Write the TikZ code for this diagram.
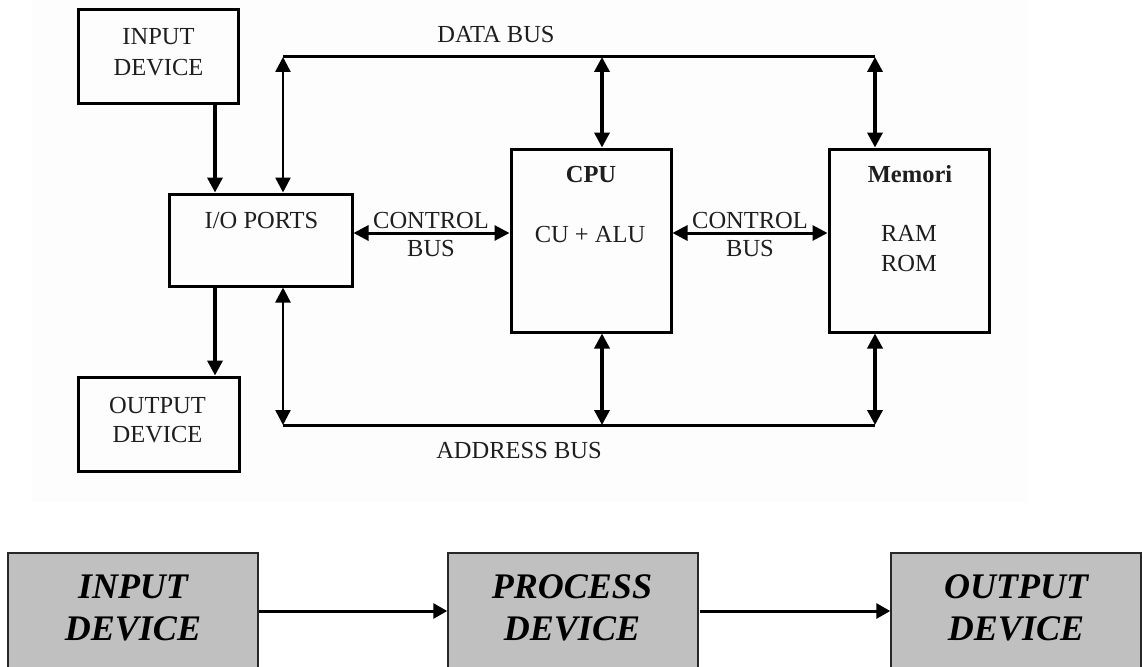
\documentclass[tikz,border=0pt]{standalone}
\usepackage{fontspec}
\setmainfont{Liberation Serif}
\usetikzlibrary{arrows.meta}
\definecolor{bgtint}{RGB}{253,253,253}
\definecolor{boxgray}{RGB}{192,192,192}
\definecolor{edgegray}{RGB}{40,40,40}
\definecolor{inkgray}{RGB}{30,30,30}
\begin{document}
\begin{tikzpicture}[x=1pt,y=-1pt,
  frame/.style={draw=black, line width=3pt, inner sep=0pt},
  txt/.style={font=\fontsize{24.5}{29}\selectfont, text=inkgray, inner sep=0pt, anchor=base},
  btxt/.style={font=\fontsize{24.5}{29}\selectfont\bfseries, text=inkgray, inner sep=0pt, anchor=base},
  bigtxt/.style={font=\fontsize{36}{42}\selectfont\bfseries\itshape, inner sep=0pt, anchor=base},
  biarr/.style={line width=3pt, {Triangle[width=15pt,length=15pt]}-{Triangle[width=15pt,length=15pt]}},
  onearr/.style={line width=3.5pt, -{Triangle[width=15pt,length=15pt]}},
  busline/.style={line width=3pt},
  flowbox/.style={draw=edgegray, fill=boxgray, line width=1.5pt, inner sep=0pt},
  flowarr/.style={line width=3pt, -{Triangle[width=15pt,length=14pt]}}
]
\useasboundingbox (0,0) rectangle (1142,666);
\clip (0,0) rectangle (1142,666);
\fill[white] (0,0) rectangle (1142,666);
\fill[bgtint] (32,0) rectangle (1028,503);

% ---- blocks (top diagram)
\node[frame, minimum width=160pt, minimum height=94pt] (inp) at (158,57) {};
\node[frame, minimum width=183pt, minimum height=92pt] (io) at (260.5,240) {};
\node[frame, minimum width=160pt, minimum height=183pt] (cpu) at (591,240.5) {};
\node[frame, minimum width=160pt, minimum height=183pt] (mem) at (909,240.5) {};
\node[frame, minimum width=161pt, minimum height=94pt] (out) at (158.5,424) {};

% ---- texts in blocks
\node[txt] (inpA) at (158.5,45) {INPUT};
\node[txt] (inpB) at (158.5,76) {DEVICE};
\node[txt] (ioA) at (261.5,228) {I/O PORTS};
\node[btxt] (cpuA) at (591,182) {CPU};
\node[txt] (cpuB) at (590,242) {CU + ALU};
\node[btxt] (memA) at (910,182) {Memori};
\node[txt] (memB) at (909,241) {RAM};
\node[txt] (memC) at (909,271) {ROM};
\node[txt] (outA) at (157.5,413) {OUTPUT};
\node[txt] (outB) at (157.5,442) {DEVICE};

% ---- bus junctions
\coordinate (dL) at (283,57);
\coordinate (dC) at (602,57);
\coordinate (dR) at (875,57);
\coordinate (aL) at (283,425);
\coordinate (aC) at (602,425);
\coordinate (aR) at (875,425);
\coordinate (cb) at (0,233);
\coordinate (dev) at (215,0);

% ---- buses
\draw[busline] (dL) -- (dR);
\draw[busline] (aL) -- (aR);
\draw[biarr, line width=2.5pt] (dL) -- (dL |- io.north);
\draw[biarr, line width=3.5pt] (dC) -- (dC |- cpu.north);
\draw[biarr, line width=3.5pt] (dR) -- (dR |- mem.north);
\draw[biarr, line width=2.5pt] (aL) -- (aL |- io.south);
\draw[biarr, line width=3.5pt] (aC) -- (aC |- cpu.south);
\draw[biarr, line width=3.5pt] (aR) -- (aR |- mem.south);
\draw[biarr] (io.east |- cb) -- (cpu.west |- cb);
\draw[biarr] (cpu.east |- cb) -- (mem.west |- cb);
\draw[onearr] (dev |- inp.south) -- (dev |- io.north);
\draw[onearr] (dev |- io.south) -- (dev |- out.north);

% ---- bus labels
\node[txt] (dataLbl) at (496,43) {DATA BUS};
\node[txt] (addrLbl) at (519,458) {ADDRESS BUS};
\node[txt] (cb1A) at (431,228) {CONTROL};
\node[txt] (cb1B) at (431,256) {BUS};
\node[txt] (cb2A) at (750,228) {CONTROL};
\node[txt] (cb2B) at (750,256) {BUS};

% ---- bottom flow
\node[flowbox, minimum width=250pt, minimum height=127pt] (b1) at (133,616.5) {};
\node[flowbox, minimum width=250pt, minimum height=127pt] (b2) at (573,616.5) {};
\node[flowbox, minimum width=250pt, minimum height=127pt] (b3) at (1016,616.5) {};
\node[bigtxt] (b1A) at (133,598) {INPUT};
\node[bigtxt] (b1B) at (133,640) {DEVICE};
\node[bigtxt] (b2A) at (572,598) {PROCESS};
\node[bigtxt] (b2B) at (572,640) {DEVICE};
\node[bigtxt] (b3A) at (1016,598) {OUTPUT};
\node[bigtxt] (b3B) at (1016,640) {DEVICE};
\coordinate (fy) at (0,611);
\draw[flowarr] (b1.east |- fy) -- (b2.west |- fy);
\draw[flowarr] ([xshift=1.5pt]b2.east |- fy) -- (b3.west |- fy);
\end{tikzpicture}
\end{document}
